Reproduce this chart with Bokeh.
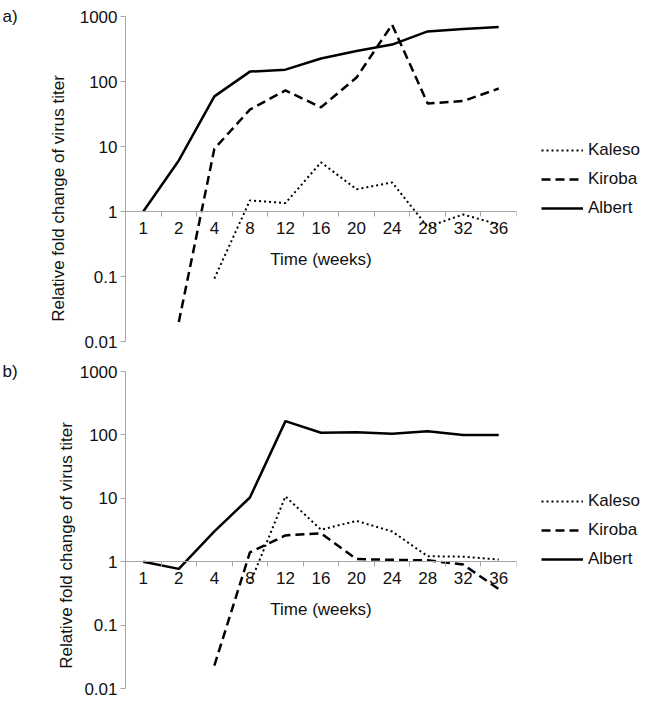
import math
from bokeh.plotting import figure
from bokeh.layouts import column
from bokeh.models import (FactorRange, Range1d, LinearAxis, LogAxis, CategoricalAxis,
                          FixedTicker, CustomJSTickFormatter, Legend, LegendItem, Label, ColumnDataSource)
from bokeh.embed import file_html
from bokeh.resources import INLINE

nan = float("nan")

# ---- data ----
weeks = ["1", "2", "4", "8", "12", "16", "20", "24", "28", "32", "36"]
y_ticks = [0.01, 0.1, 1, 10, 100, 1000]
series_names = ["Kaleso", "Kiroba", "Albert"]

a_kaleso = [nan, nan, 0.093, 1.48, 1.35, 5.7, 2.2, 2.8, 0.58, 0.9, 0.63]
a_kiroba = [nan, 0.02, 9.2, 37, 73, 40, 115, 750, 46, 50, 78]
a_albert = [1, 6.1, 59, 142, 152, 226, 295, 370, 590, 640, 690]

b_kaleso = [nan, nan, nan, 0.45, 10.7, 3.2, 4.4, 3.0, 1.22, 1.2, 1.08]
b_kiroba = [nan, nan, 0.023, 1.4, 2.6, 2.8, 1.1, 1.07, 1.05, 0.9, 0.37]
b_albert = [1, 0.77, 3.0, 10.3, 165, 108, 110, 104, 114, 100, 100]

FONT = "Liberation Sans"
TXT = "#111111"
GRAY = "#a6a6a6"
FS = "17px"


def make_panel(tag, kaleso, kiroba, albert, frame_h, mbt, mbb, ylab_x, ylab_y):
    p = figure(x_range=FactorRange(*weeks), y_range=Range1d(0.01, 1000), y_axis_type="log",
               frame_width=391, frame_height=frame_h,
               min_border_left=125, min_border_right=130, min_border_top=mbt, min_border_bottom=mbb,
               x_axis_location=None, y_axis_location=None,
               output_backend="svg", toolbar_location=None)
    p.outline_line_color = None
    p.xgrid.visible = False
    p.ygrid.visible = False
    p.background_fill_color = "white"
    p.border_fill_color = "white"

    yax = LogAxis(ticker=FixedTicker(ticks=y_ticks, minor_ticks=[]),
                  formatter=CustomJSTickFormatter(code="return String(tick)"),
                  major_label_text_font=FONT, major_label_text_font_size=FS,
                  major_label_text_color=TXT, major_label_standoff=3,
                  axis_line_color=GRAY, major_tick_line_color=GRAY,
                  major_tick_in=0, major_tick_out=5, minor_tick_line_color=None)
    p.add_layout(yax, "left")

    # boundary ticks between categories (synthetic category coordinates)
    eax = LinearAxis(fixed_location=1,
                     ticker=FixedTicker(ticks=list(range(len(weeks) + 1)), minor_ticks=[]),
                     major_label_text_color=None, major_label_text_font_size="0px",
                     axis_line_color=GRAY, major_tick_line_color=GRAY,
                     major_tick_in=0, major_tick_out=5, minor_tick_line_color=None)
    p.add_layout(eax, "below")

    xax = CategoricalAxis(fixed_location=1, axis_label="Time (weeks)",
                          axis_label_text_font=FONT, axis_label_text_font_size=FS,
                          axis_label_text_font_style="normal", axis_label_text_color=TXT,
                          axis_label_standoff=13,
                          major_label_text_font=FONT, major_label_text_font_size=FS,
                          major_label_text_color=TXT, major_label_standoff=4,
                          axis_line_color=GRAY, major_tick_line_color=None,
                          major_tick_in=0, major_tick_out=6)
    p.add_layout(xax, "below")

    src = ColumnDataSource(dict(week=weeks, kaleso=kaleso, kiroba=kiroba, albert=albert))
    r1 = p.line("week", "kaleso", source=src, line_color="black", line_width=2, line_dash="2 3")
    r2 = p.line("week", "kiroba", source=src, line_color="black", line_width=2.5, line_dash="9 5")
    r3 = p.line("week", "albert", source=src, line_color="black", line_width=2.5)

    leg_h = 3 * 20 + 2 * 9
    legend = Legend(items=[LegendItem(label=series_names[0], renderers=[r1]),
                           LegendItem(label=series_names[1], renderers=[r2]),
                           LegendItem(label=series_names[2], renderers=[r3])],
                    location=(25, (frame_h - leg_h) / 2), orientation="vertical",
                    border_line_color=None, background_fill_alpha=0,
                    padding=0, margin=0, spacing=9,
                    glyph_width=42, glyph_height=20, label_height=20, label_standoff=5,
                    label_text_font=FONT, label_text_font_size=FS, label_text_color=TXT)
    p.add_layout(legend, "right")

    p.add_layout(Label(x=-59, y=frame_h, x_units="screen", y_units="screen", text=tag,
                       text_font=FONT, text_font_size=FS, text_color=TXT,
                       text_baseline="middle", text_align="left"), "left")
    p.add_layout(Label(x=ylab_x, y=ylab_y, x_units="screen", y_units="screen",
                       text="Relative fold change of virus titer", angle=math.pi / 2,
                       text_font=FONT, text_font_size=FS, text_color=TXT,
                       text_baseline="middle", text_align="center"), "left")
    return p


pa = make_panel("a)", a_kaleso, a_kiroba, a_albert, 325, 16, 17, 16, 143)
pb = make_panel("b)", b_kaleso, b_kiroba, b_albert, 317, 13, 12, 24, 143)

layout = column(pa, pb)
open("out.html", "w").write(file_html(layout, INLINE))
